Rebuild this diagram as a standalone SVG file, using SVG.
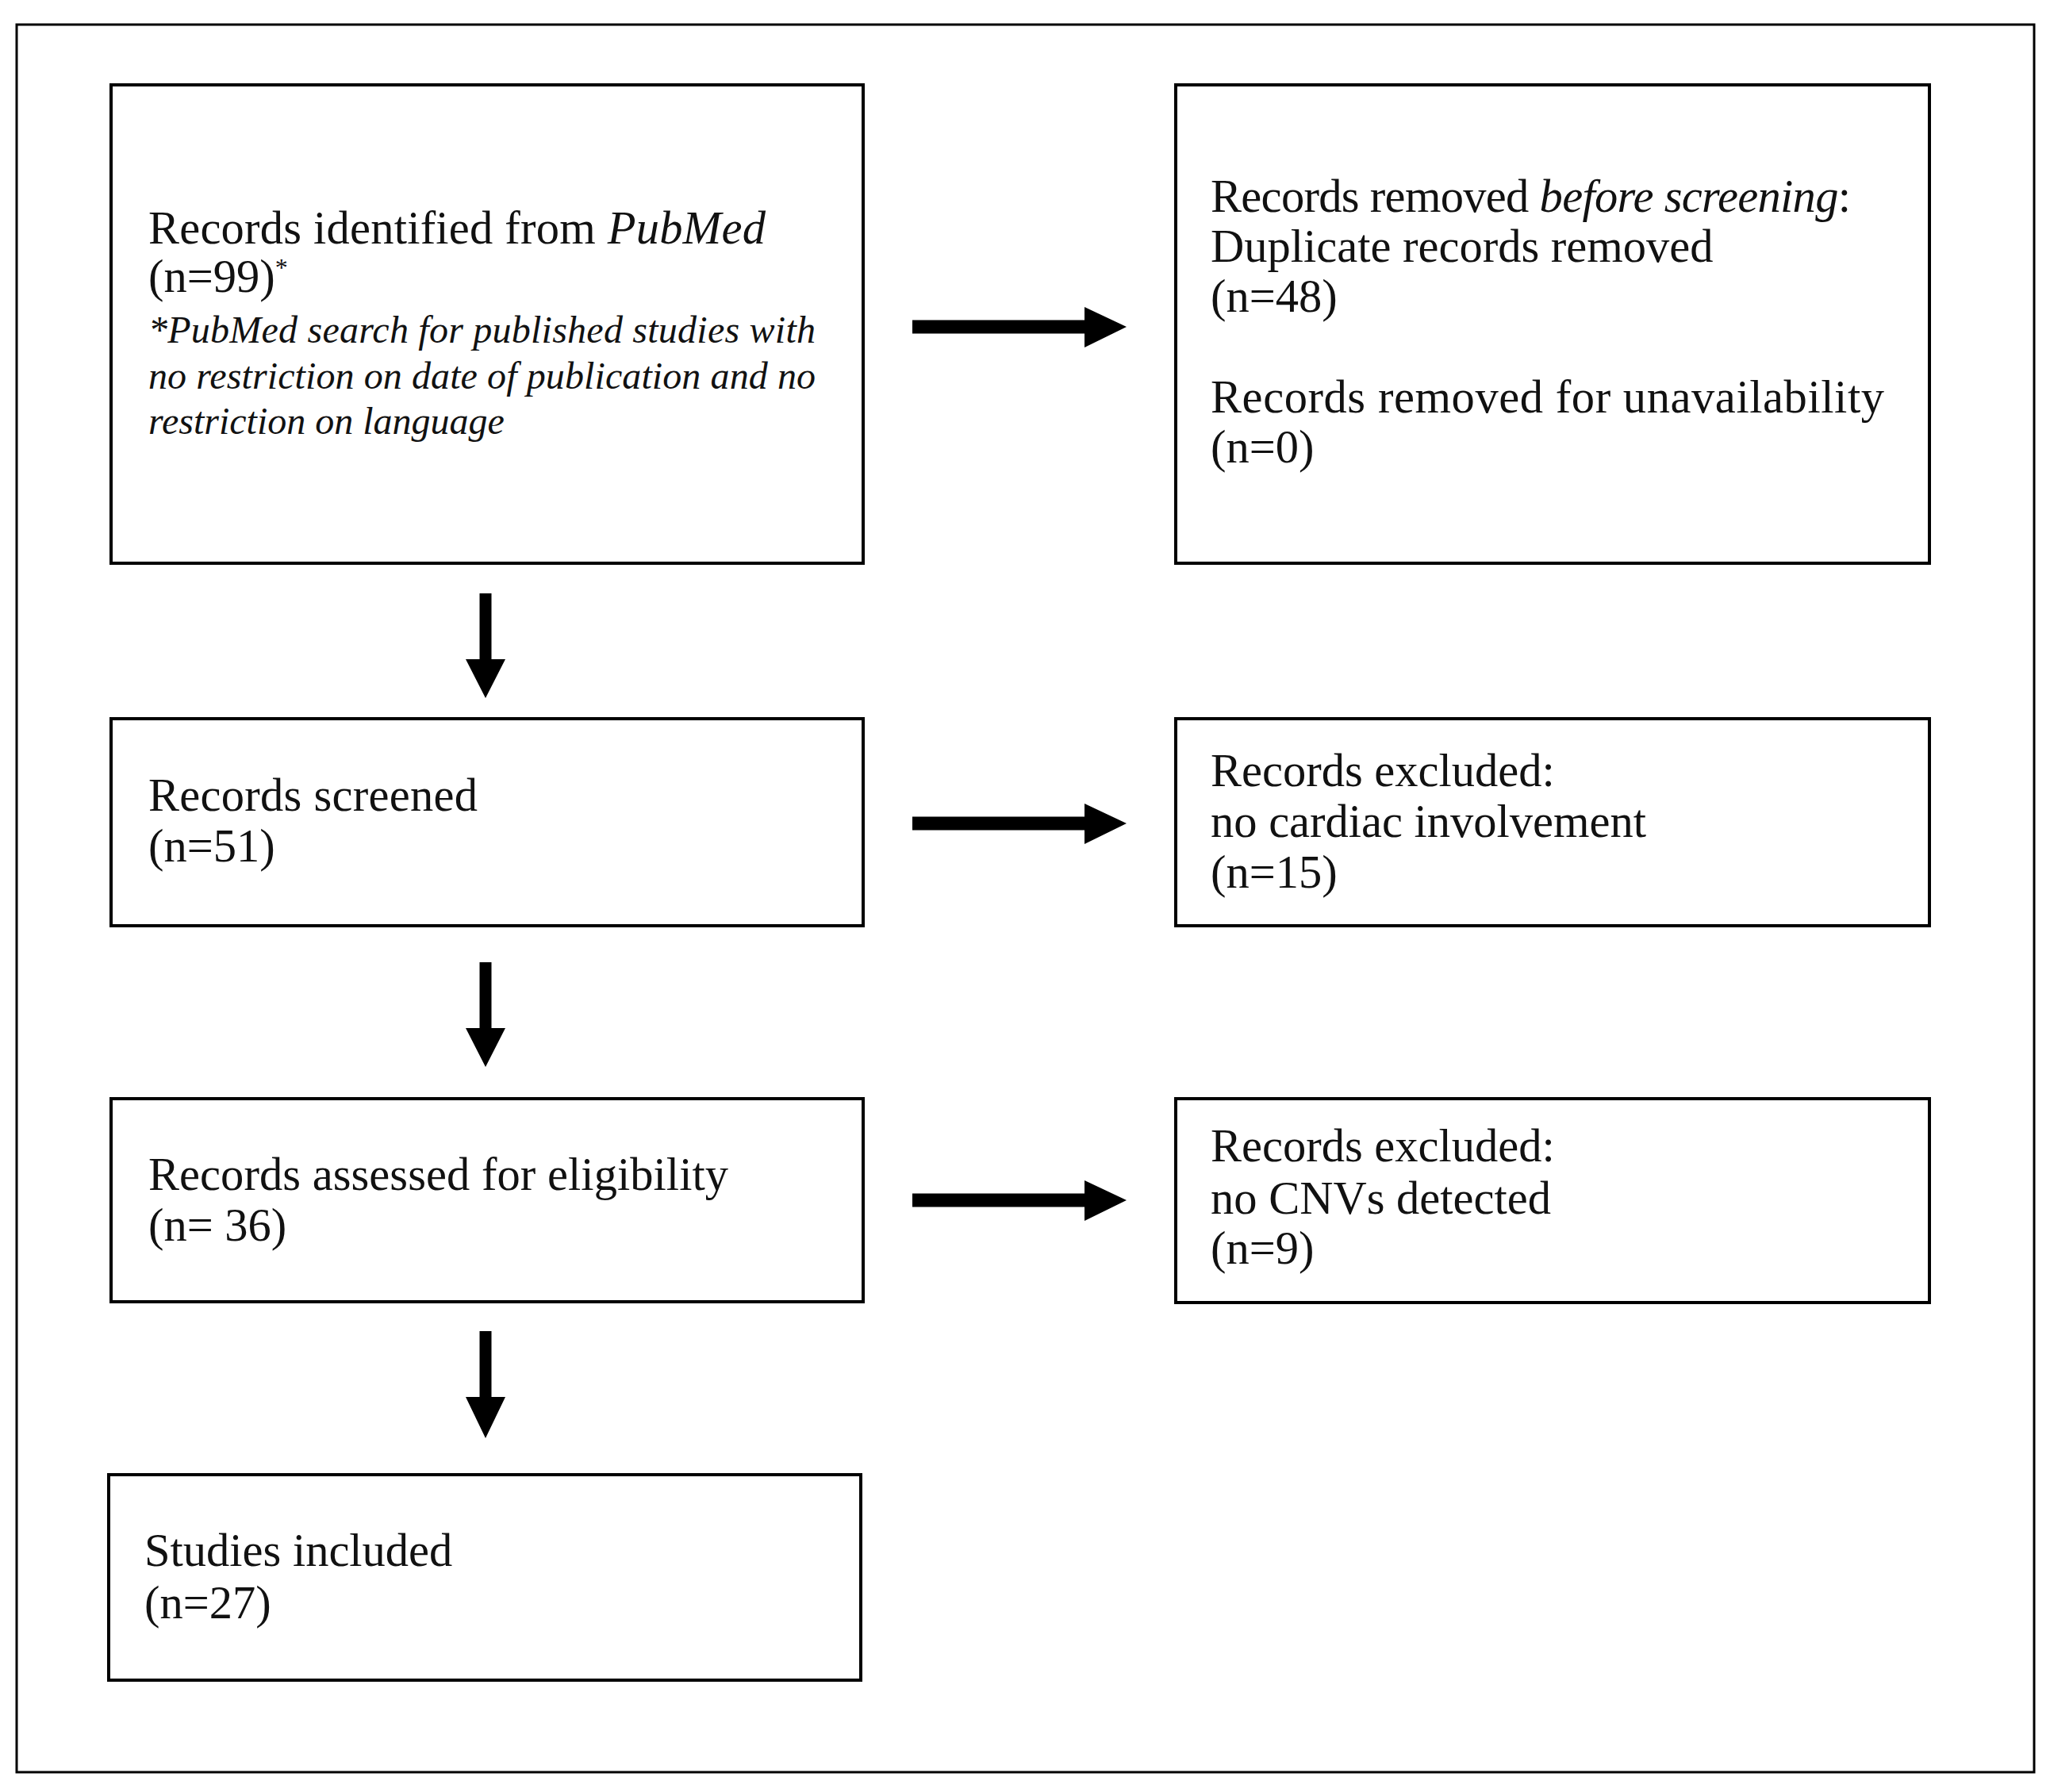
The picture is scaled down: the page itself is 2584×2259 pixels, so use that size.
<svg xmlns="http://www.w3.org/2000/svg" width="2584" height="2259" viewBox="0 0 2584 2259">
<style>
.box{fill:#fff;stroke:#000;stroke-width:4}
.t{font-family:"Liberation Serif","Times New Roman",serif;font-size:58.5px;fill:#111}
.it{font-family:"Liberation Serif","Times New Roman",serif;font-size:48px;font-style:italic;fill:#111}
.i{font-style:italic}
.arr{fill:#000}
</style>
<rect x="0" y="0" width="2584" height="2259" fill="#fff"/>
<rect x="21" y="31" width="2543" height="2203" fill="none" stroke="#000" stroke-width="3"/>
<g id="node-identified">
<rect class="box" x="140" y="107" width="948" height="603"/>
<text class="t" x="187" y="307" textLength="778">Records identified  from <tspan class="i">PubMed</tspan></text>
<text class="t" x="187" y="368">(n=99)<tspan font-size="32" dy="-20">*</tspan></text>
<text class="it" x="187" y="432" textLength="841">*PubMed search for published studies with</text>
<text class="it" x="187" y="490" textLength="841">no restriction on date of publication and no</text>
<text class="it" x="187" y="547">restriction on language</text>
</g>
<g id="node-removed">
<rect class="box" x="1482" y="107" width="950" height="603"/>
<text class="t" x="1526" y="267" textLength="807">Records removed <tspan class="i">before screening</tspan>:</text>
<text class="t" x="1526" y="330">Duplicate records removed</text>
<text class="t" x="1526" y="393">(n=48)</text>
<text class="t" x="1526" y="520" textLength="849">Records removed for unavailability</text>
<text class="t" x="1526" y="583">(n=0)</text>
</g>
<g id="node-screened">
<rect class="box" x="140" y="906" width="948" height="261"/>
<text class="t" x="187" y="1022" textLength="415">Records screened</text>
<text class="t" x="187" y="1086">(n=51)</text>
</g>
<g id="node-excluded1">
<rect class="box" x="1482" y="906" width="950" height="261"/>
<text class="t" x="1526" y="991">Records excluded:</text>
<text class="t" x="1526" y="1055">no cardiac involvement</text>
<text class="t" x="1526" y="1119">(n=15)</text>
</g>
<g id="node-assessed">
<rect class="box" x="140" y="1385" width="948" height="256"/>
<text class="t" x="187" y="1500" textLength="731">Records assessed for eligibility</text>
<text class="t" x="187" y="1564">(n= 36)</text>
</g>
<g id="node-excluded2">
<rect class="box" x="1482" y="1385" width="950" height="257"/>
<text class="t" x="1526" y="1464">Records excluded:</text>
<text class="t" x="1526" y="1530">no CNVs detected</text>
<text class="t" x="1526" y="1593">(n=9)</text>
</g>
<g id="node-included">
<rect class="box" x="137" y="1859" width="948" height="259"/>
<text class="t" x="182" y="1974">Studies included</text>
<text class="t" x="182" y="2040">(n=27)</text>
</g>
<g id="connectors">
<polygon class="arr" points="604.5,748 619.5,748 619.5,831 637,831 612,880 587,831 604.5,831"/>
<polygon class="arr" points="604.5,1213 619.5,1213 619.5,1296 637,1296 612,1345 587,1296 604.5,1296"/>
<polygon class="arr" points="604.5,1678 619.5,1678 619.5,1761 637,1761 612,1813 587,1761 604.5,1761"/>
<polygon class="arr" points="1150,403.5 1367,403.5 1367,387 1420,412 1367,438 1367,420.5 1150,420.5"/>
<polygon class="arr" points="1150,1029.5 1367,1029.5 1367,1013 1420,1038 1367,1064 1367,1046.5 1150,1046.5"/>
<polygon class="arr" points="1150,1504.5 1367,1504.5 1367,1488 1420,1513 1367,1539 1367,1521.5 1150,1521.5"/>
</g>
</svg>
